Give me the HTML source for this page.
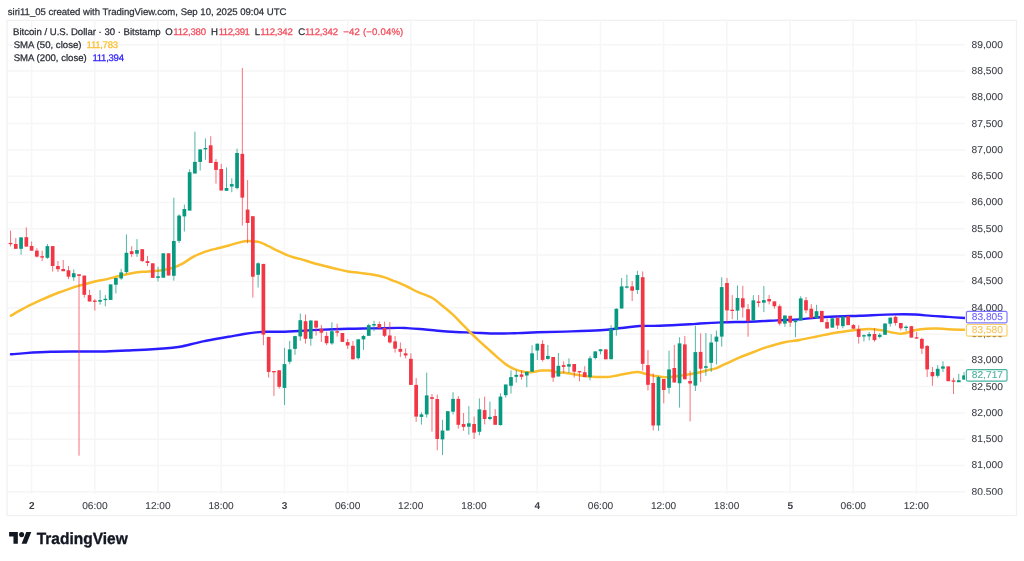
<!DOCTYPE html>
<html><head><meta charset="utf-8"><style>
html,body{margin:0;padding:0;background:#fff;}
body{width:1024px;height:561px;overflow:hidden;position:relative;font-family:"Liberation Sans",Arial,sans-serif;}
svg{position:absolute;left:0;top:0;will-change:transform;} text{text-rendering:geometricPrecision;}
</style></head><body>
<svg width="1024" height="561" viewBox="0 0 1024 561" font-family="Liberation Sans, Arial, sans-serif">
<rect x="7.1" y="20.3" width="1009.4" height="495.3" fill="none" stroke="#F1F1F2" stroke-width="1.3"/>
<g stroke="#F6F6F7" stroke-width="1.5">
<line x1="31.60" y1="20.5" x2="31.60" y2="494"/>
<line x1="94.80" y1="20.5" x2="94.80" y2="494"/>
<line x1="158.00" y1="20.5" x2="158.00" y2="494"/>
<line x1="221.20" y1="20.5" x2="221.20" y2="494"/>
<line x1="284.40" y1="20.5" x2="284.40" y2="494"/>
<line x1="347.60" y1="20.5" x2="347.60" y2="494"/>
<line x1="410.80" y1="20.5" x2="410.80" y2="494"/>
<line x1="474.00" y1="20.5" x2="474.00" y2="494"/>
<line x1="537.20" y1="20.5" x2="537.20" y2="494"/>
<line x1="600.40" y1="20.5" x2="600.40" y2="494"/>
<line x1="663.60" y1="20.5" x2="663.60" y2="494"/>
<line x1="726.80" y1="20.5" x2="726.80" y2="494"/>
<line x1="790.00" y1="20.5" x2="790.00" y2="494"/>
<line x1="853.20" y1="20.5" x2="853.20" y2="494"/>
<line x1="916.40" y1="20.5" x2="916.40" y2="494"/>
</g><g stroke="#F6F6F7" stroke-width="1.5">
<line x1="7.5" y1="44.70" x2="965" y2="44.70"/>
<line x1="7.5" y1="71.00" x2="965" y2="71.00"/>
<line x1="7.5" y1="97.30" x2="965" y2="97.30"/>
<line x1="7.5" y1="123.60" x2="965" y2="123.60"/>
<line x1="7.5" y1="149.90" x2="965" y2="149.90"/>
<line x1="7.5" y1="176.20" x2="965" y2="176.20"/>
<line x1="7.5" y1="202.50" x2="965" y2="202.50"/>
<line x1="7.5" y1="228.80" x2="965" y2="228.80"/>
<line x1="7.5" y1="255.10" x2="965" y2="255.10"/>
<line x1="7.5" y1="281.40" x2="965" y2="281.40"/>
<line x1="7.5" y1="307.70" x2="965" y2="307.70"/>
<line x1="7.5" y1="334.00" x2="965" y2="334.00"/>
<line x1="7.5" y1="360.30" x2="965" y2="360.30"/>
<line x1="7.5" y1="386.60" x2="965" y2="386.60"/>
<line x1="7.5" y1="412.90" x2="965" y2="412.90"/>
<line x1="7.5" y1="439.20" x2="965" y2="439.20"/>
<line x1="7.5" y1="465.50" x2="965" y2="465.50"/>
<line x1="7.5" y1="491.80" x2="965" y2="491.80"/>
</g>
<clipPath id="pc"><rect x="7.5" y="20.5" width="957.5" height="471.5"/></clipPath>
<g clip-path="url(#pc)">
<path d="M11.00,354.30 C13.40,354.10 18.77,353.52 25.40,353.10 C32.03,352.68 42.33,352.07 50.80,351.80 C59.27,351.53 67.73,351.55 76.20,351.50 C84.67,351.45 93.13,351.67 101.60,351.50 C110.07,351.33 118.53,350.87 127.00,350.50 C135.47,350.13 144.78,349.77 152.40,349.30 C160.02,348.83 167.63,348.22 172.70,347.70 C177.77,347.18 177.73,347.25 182.80,346.20 C187.87,345.15 195.48,342.97 203.10,341.40 C210.72,339.83 221.68,338.03 228.50,336.80 C235.32,335.57 238.93,334.78 244.00,334.00 C249.07,333.22 255.17,332.48 258.90,332.10 C262.63,331.72 262.12,331.77 266.40,331.70 C270.68,331.63 279.25,331.82 284.60,331.70 C289.95,331.58 292.97,331.30 298.50,331.00 C304.03,330.70 309.53,330.27 317.80,329.90 C326.07,329.53 339.18,329.05 348.10,328.80 C357.02,328.55 362.98,328.55 371.30,328.40 C379.62,328.25 392.05,327.95 398.00,327.90 C403.95,327.85 403.33,327.92 407.00,328.10 C410.67,328.28 414.87,328.55 420.00,329.00 C425.13,329.45 431.85,330.30 437.80,330.80 C443.75,331.30 449.75,331.70 455.70,332.00 C461.65,332.30 466.68,332.35 473.50,332.60 C480.32,332.85 489.18,333.42 496.60,333.50 C504.02,333.58 511.25,333.30 518.00,333.10 C524.75,332.90 529.27,332.55 537.10,332.30 C544.93,332.05 554.52,331.93 565.00,331.60 C575.48,331.27 590.60,330.90 600.00,330.30 C609.40,329.70 614.80,328.72 621.40,328.00 C628.00,327.28 633.17,326.37 639.60,326.00 C646.03,325.63 651.60,326.08 660.00,325.80 C668.40,325.52 683.33,324.68 690.00,324.30 C696.67,323.92 694.65,323.82 700.00,323.50 C705.35,323.18 713.77,322.70 722.10,322.40 C730.43,322.10 740.83,322.03 750.00,321.70 C759.17,321.37 768.42,320.83 777.10,320.40 C785.78,319.97 794.72,319.62 802.10,319.10 C809.48,318.58 814.62,317.78 821.40,317.30 C828.18,316.82 836.37,316.47 842.80,316.20 C849.23,315.93 851.37,316.00 860.00,315.70 C868.63,315.40 885.43,314.60 894.60,314.40 C903.77,314.20 908.82,314.25 915.00,314.50 C921.18,314.75 926.23,315.50 931.70,315.90 C937.17,316.30 942.25,316.55 947.80,316.90 C953.35,317.25 962.13,317.82 965.00,318.00" fill="none" stroke="#2B1CFF" stroke-width="2.4" stroke-linejoin="round" stroke-linecap="round"/>
<path d="M10.90,315.70 C12.35,314.87 16.52,312.43 19.60,310.70 C22.68,308.97 26.13,306.93 29.40,305.30 C32.67,303.67 35.93,302.37 39.20,300.90 C42.47,299.43 45.73,297.90 49.00,296.50 C52.27,295.10 55.53,293.73 58.80,292.50 C62.07,291.27 65.33,290.20 68.60,289.10 C71.87,288.00 75.13,286.88 78.40,285.90 C81.67,284.92 84.93,284.05 88.20,283.20 C91.47,282.35 95.23,281.40 98.00,280.80 C100.77,280.20 102.05,280.22 104.80,279.60 C107.55,278.98 111.25,277.92 114.50,277.10 C117.75,276.28 121.03,275.43 124.30,274.70 C127.57,273.97 130.85,273.20 134.10,272.70 C137.35,272.20 140.55,271.97 143.80,271.70 C147.05,271.43 150.33,271.37 153.60,271.10 C156.87,270.83 160.15,270.65 163.40,270.10 C166.65,269.55 169.85,268.92 173.10,267.80 C176.35,266.68 179.63,265.18 182.90,263.40 C186.17,261.62 189.88,258.70 192.70,257.10 C195.52,255.50 197.00,254.92 199.80,253.80 C202.60,252.68 206.25,251.37 209.50,250.40 C212.75,249.43 216.05,248.82 219.30,248.00 C222.55,247.18 225.75,246.40 229.00,245.50 C232.25,244.60 235.87,243.33 238.80,242.60 C241.73,241.87 244.15,241.30 246.60,241.10 C249.05,240.90 251.22,241.18 253.50,241.40 C255.78,241.62 257.87,241.63 260.30,242.40 C262.73,243.17 265.17,244.58 268.10,246.00 C271.03,247.42 274.63,249.35 277.90,250.90 C281.17,252.45 284.98,254.20 287.70,255.30 C290.42,256.40 292.15,256.90 294.20,257.50 C296.25,258.10 296.07,257.77 300.00,258.90 C303.93,260.03 311.85,262.67 317.80,264.30 C323.75,265.93 330.65,267.52 335.70,268.70 C340.75,269.88 343.65,270.65 348.10,271.40 C352.55,272.15 357.93,272.60 362.40,273.20 C366.87,273.80 371.33,274.35 374.90,275.00 C378.47,275.65 380.53,276.07 383.80,277.10 C387.07,278.13 390.63,279.63 394.50,281.20 C398.37,282.77 403.15,284.72 407.00,286.50 C410.85,288.28 413.50,290.07 417.60,291.90 C421.70,293.73 427.63,295.32 431.60,297.50 C435.57,299.68 437.98,302.27 441.40,305.00 C444.82,307.73 448.83,310.93 452.10,313.90 C455.37,316.87 458.03,319.78 461.00,322.80 C463.97,325.82 466.93,329.03 469.90,332.00 C472.87,334.97 475.83,337.83 478.80,340.60 C481.77,343.37 484.73,345.93 487.70,348.60 C490.67,351.27 493.62,354.02 496.60,356.60 C499.58,359.18 502.62,362.02 505.60,364.10 C508.58,366.18 511.53,367.82 514.50,369.10 C517.47,370.38 520.73,371.27 523.40,371.80 C526.07,372.33 527.53,372.50 530.50,372.30 C533.47,372.10 537.95,370.88 541.20,370.60 C544.45,370.32 547.12,370.27 550.00,370.60 C552.88,370.93 556.00,372.23 558.50,372.60 C561.00,372.97 560.30,372.20 565.00,372.80 C569.70,373.40 579.60,375.50 586.70,376.20 C593.80,376.90 602.17,377.22 607.60,377.00 C613.03,376.78 614.42,375.73 619.30,374.90 C624.18,374.07 632.60,372.18 636.90,372.00 C641.20,371.82 642.17,373.15 645.10,373.80 C648.03,374.45 650.98,375.32 654.50,375.90 C658.02,376.48 662.30,377.27 666.20,377.30 C670.10,377.33 674.00,376.60 677.90,376.10 C681.80,375.60 685.70,374.98 689.60,374.30 C693.50,373.62 697.90,372.78 701.30,372.00 C704.70,371.22 707.55,370.20 710.00,369.60 C712.45,369.00 713.22,369.43 716.00,368.40 C718.78,367.37 722.83,365.18 726.70,363.40 C730.57,361.62 734.73,359.60 739.20,357.70 C743.67,355.80 749.03,353.72 753.50,352.00 C757.97,350.28 760.65,349.07 766.00,347.40 C771.35,345.73 779.97,343.25 785.60,342.00 C791.23,340.75 794.75,340.78 799.80,339.90 C804.85,339.02 810.87,337.73 815.90,336.70 C820.93,335.67 825.52,334.53 830.00,333.70 C834.48,332.87 838.53,332.30 842.80,331.70 C847.07,331.10 851.25,330.57 855.60,330.10 C859.95,329.63 864.55,328.88 868.90,328.90 C873.25,328.92 876.35,329.40 881.70,330.20 C887.05,331.00 895.33,333.72 901.00,333.70 C906.67,333.68 911.47,330.93 915.70,330.10 C919.93,329.27 922.83,328.97 926.40,328.70 C929.97,328.43 933.53,328.42 937.10,328.50 C940.67,328.58 943.15,328.98 947.80,329.20 C952.45,329.42 962.13,329.70 965.00,329.80" fill="none" stroke="#FABD2C" stroke-width="2.5" stroke-linejoin="round" stroke-linecap="round"/>
<rect x="10.03" y="230.6" width="1" height="15.8" fill="#F23645" fill-opacity="0.7"/>
<rect x="8.68" y="242.9" width="3.7" height="1.3" fill="#F23645"/>
<rect x="15.30" y="238.0" width="1" height="10.8" fill="#F23645" fill-opacity="0.7"/>
<rect x="13.95" y="244.0" width="3.7" height="4.8" fill="#F23645"/>
<rect x="20.56" y="237.4" width="1" height="17.3" fill="#089981" fill-opacity="0.7"/>
<rect x="19.21" y="237.4" width="3.7" height="11.4" fill="#089981"/>
<rect x="25.83" y="227.4" width="1" height="19.2" fill="#F23645" fill-opacity="0.7"/>
<rect x="24.48" y="237.2" width="3.7" height="9.4" fill="#F23645"/>
<rect x="31.10" y="241.5" width="1" height="9.2" fill="#F23645" fill-opacity="0.7"/>
<rect x="29.75" y="246.0" width="3.7" height="4.7" fill="#F23645"/>
<rect x="36.37" y="248.2" width="1" height="9.3" fill="#F23645" fill-opacity="0.7"/>
<rect x="35.02" y="250.6" width="3.7" height="6.0" fill="#F23645"/>
<rect x="41.64" y="250.7" width="1" height="10.4" fill="#F23645" fill-opacity="0.7"/>
<rect x="40.29" y="256.2" width="3.7" height="1.4" fill="#F23645"/>
<rect x="46.90" y="244.0" width="1" height="14.9" fill="#089981" fill-opacity="0.7"/>
<rect x="45.55" y="246.1" width="3.7" height="11.7" fill="#089981"/>
<rect x="52.17" y="246.1" width="1" height="25.5" fill="#F23645" fill-opacity="0.7"/>
<rect x="50.82" y="246.1" width="3.7" height="19.9" fill="#F23645"/>
<rect x="57.44" y="261.0" width="1" height="10.9" fill="#F23645" fill-opacity="0.7"/>
<rect x="56.09" y="266.0" width="3.7" height="3.2" fill="#F23645"/>
<rect x="62.71" y="260.0" width="1" height="11.2" fill="#F23645" fill-opacity="0.7"/>
<rect x="61.36" y="269.0" width="3.7" height="2.2" fill="#F23645"/>
<rect x="67.98" y="266.0" width="1" height="13.2" fill="#F23645" fill-opacity="0.7"/>
<rect x="66.63" y="270.3" width="3.7" height="6.4" fill="#F23645"/>
<rect x="73.24" y="269.4" width="1" height="11.4" fill="#089981" fill-opacity="0.7"/>
<rect x="71.89" y="273.2" width="3.7" height="4.1" fill="#089981"/>
<rect x="78.51" y="274.2" width="1" height="181.5" fill="#F23645" fill-opacity="0.7"/>
<rect x="77.16" y="274.3" width="3.7" height="1.6" fill="#F23645"/>
<rect x="83.78" y="275.6" width="1" height="22.0" fill="#F23645" fill-opacity="0.7"/>
<rect x="82.43" y="275.6" width="3.7" height="19.2" fill="#F23645"/>
<rect x="89.05" y="289.8" width="1" height="11.7" fill="#F23645" fill-opacity="0.7"/>
<rect x="87.70" y="295.1" width="3.7" height="6.4" fill="#F23645"/>
<rect x="94.32" y="298.9" width="1" height="11.7" fill="#F23645" fill-opacity="0.7"/>
<rect x="92.97" y="300.6" width="3.7" height="1.3" fill="#F23645"/>
<rect x="99.58" y="290.1" width="1" height="14.6" fill="#089981" fill-opacity="0.7"/>
<rect x="98.23" y="300.1" width="3.7" height="1.6" fill="#089981"/>
<rect x="104.85" y="295.1" width="1" height="11.2" fill="#089981" fill-opacity="0.7"/>
<rect x="103.50" y="298.8" width="3.7" height="1.3" fill="#089981"/>
<rect x="110.12" y="284.4" width="1" height="15.5" fill="#089981" fill-opacity="0.7"/>
<rect x="108.77" y="284.4" width="3.7" height="15.5" fill="#089981"/>
<rect x="115.39" y="278.0" width="1" height="15.5" fill="#089981" fill-opacity="0.7"/>
<rect x="114.04" y="278.0" width="3.7" height="6.7" fill="#089981"/>
<rect x="120.66" y="268.9" width="1" height="10.9" fill="#089981" fill-opacity="0.7"/>
<rect x="119.31" y="272.4" width="3.7" height="6.1" fill="#089981"/>
<rect x="125.92" y="234.4" width="1" height="39.3" fill="#089981" fill-opacity="0.7"/>
<rect x="124.57" y="252.8" width="3.7" height="19.3" fill="#089981"/>
<rect x="131.19" y="246.2" width="1" height="10.7" fill="#F23645" fill-opacity="0.7"/>
<rect x="129.84" y="251.2" width="3.7" height="2.9" fill="#F23645"/>
<rect x="136.46" y="239.1" width="1" height="17.8" fill="#089981" fill-opacity="0.7"/>
<rect x="135.11" y="250.1" width="3.7" height="3.6" fill="#089981"/>
<rect x="141.73" y="249.2" width="1" height="12.7" fill="#F23645" fill-opacity="0.7"/>
<rect x="140.38" y="249.2" width="3.7" height="11.9" fill="#F23645"/>
<rect x="147.00" y="256.0" width="1" height="10.2" fill="#F23645" fill-opacity="0.7"/>
<rect x="145.65" y="261.1" width="3.7" height="1.9" fill="#F23645"/>
<rect x="152.26" y="263.3" width="1" height="14.6" fill="#F23645" fill-opacity="0.7"/>
<rect x="150.91" y="263.3" width="3.7" height="14.6" fill="#F23645"/>
<rect x="157.53" y="266.7" width="1" height="14.8" fill="#089981" fill-opacity="0.7"/>
<rect x="156.18" y="276.3" width="3.7" height="1.6" fill="#089981"/>
<rect x="162.80" y="253.3" width="1" height="24.4" fill="#089981" fill-opacity="0.7"/>
<rect x="161.45" y="253.3" width="3.7" height="24.4" fill="#089981"/>
<rect x="168.07" y="253.3" width="1" height="22.2" fill="#F23645" fill-opacity="0.7"/>
<rect x="166.72" y="253.3" width="3.7" height="22.2" fill="#F23645"/>
<rect x="173.34" y="197.7" width="1" height="82.9" fill="#089981" fill-opacity="0.7"/>
<rect x="171.99" y="241.0" width="3.7" height="34.8" fill="#089981"/>
<rect x="178.60" y="214.2" width="1" height="28.8" fill="#089981" fill-opacity="0.7"/>
<rect x="177.25" y="215.6" width="3.7" height="25.3" fill="#089981"/>
<rect x="183.87" y="204.6" width="1" height="26.9" fill="#089981" fill-opacity="0.7"/>
<rect x="182.52" y="209.0" width="3.7" height="7.4" fill="#089981"/>
<rect x="189.14" y="169.3" width="1" height="41.3" fill="#089981" fill-opacity="0.7"/>
<rect x="187.79" y="172.2" width="3.7" height="38.4" fill="#089981"/>
<rect x="194.41" y="131.6" width="1" height="41.9" fill="#089981" fill-opacity="0.7"/>
<rect x="193.06" y="161.9" width="3.7" height="11.6" fill="#089981"/>
<rect x="199.68" y="149.4" width="1" height="21.1" fill="#089981" fill-opacity="0.7"/>
<rect x="198.33" y="149.4" width="3.7" height="12.5" fill="#089981"/>
<rect x="204.94" y="138.4" width="1" height="21.4" fill="#089981" fill-opacity="0.7"/>
<rect x="203.59" y="148.0" width="3.7" height="1.4" fill="#089981"/>
<rect x="210.21" y="136.2" width="1" height="26.8" fill="#F23645" fill-opacity="0.7"/>
<rect x="208.86" y="145.3" width="3.7" height="17.7" fill="#F23645"/>
<rect x="215.48" y="159.0" width="1" height="24.6" fill="#F23645" fill-opacity="0.7"/>
<rect x="214.13" y="161.9" width="3.7" height="8.0" fill="#F23645"/>
<rect x="220.75" y="163.7" width="1" height="26.8" fill="#F23645" fill-opacity="0.7"/>
<rect x="219.40" y="169.0" width="3.7" height="21.5" fill="#F23645"/>
<rect x="226.02" y="167.4" width="1" height="23.4" fill="#089981" fill-opacity="0.7"/>
<rect x="224.67" y="188.0" width="3.7" height="2.8" fill="#089981"/>
<rect x="231.28" y="178.3" width="1" height="13.9" fill="#089981" fill-opacity="0.7"/>
<rect x="229.93" y="184.1" width="3.7" height="2.4" fill="#089981"/>
<rect x="236.55" y="148.6" width="1" height="40.8" fill="#089981" fill-opacity="0.7"/>
<rect x="235.20" y="153.0" width="3.7" height="35.1" fill="#089981"/>
<rect x="241.82" y="67.9" width="1" height="157.7" fill="#F23645" fill-opacity="0.7"/>
<rect x="240.47" y="153.9" width="3.7" height="43.7" fill="#F23645"/>
<rect x="247.09" y="180.1" width="1" height="63.2" fill="#F23645" fill-opacity="0.7"/>
<rect x="245.74" y="209.6" width="3.7" height="13.4" fill="#F23645"/>
<rect x="252.36" y="216.2" width="1" height="81.4" fill="#F23645" fill-opacity="0.7"/>
<rect x="251.01" y="216.2" width="3.7" height="60.5" fill="#F23645"/>
<rect x="257.62" y="262.3" width="1" height="25.3" fill="#089981" fill-opacity="0.7"/>
<rect x="256.27" y="263.3" width="3.7" height="11.5" fill="#089981"/>
<rect x="262.89" y="263.9" width="1" height="81.3" fill="#F23645" fill-opacity="0.7"/>
<rect x="261.54" y="263.9" width="3.7" height="70.7" fill="#F23645"/>
<rect x="268.16" y="336.9" width="1" height="40.7" fill="#F23645" fill-opacity="0.7"/>
<rect x="266.81" y="336.9" width="3.7" height="35.0" fill="#F23645"/>
<rect x="273.43" y="371.1" width="1" height="24.8" fill="#F23645" fill-opacity="0.7"/>
<rect x="272.08" y="371.0" width="3.7" height="1.3" fill="#F23645"/>
<rect x="278.70" y="370.3" width="1" height="18.3" fill="#F23645" fill-opacity="0.7"/>
<rect x="277.35" y="370.3" width="3.7" height="16.5" fill="#F23645"/>
<rect x="283.96" y="347.8" width="1" height="57.2" fill="#089981" fill-opacity="0.7"/>
<rect x="282.61" y="364.1" width="3.7" height="23.8" fill="#089981"/>
<rect x="289.23" y="340.9" width="1" height="23.2" fill="#089981" fill-opacity="0.7"/>
<rect x="287.88" y="349.4" width="3.7" height="12.3" fill="#089981"/>
<rect x="294.50" y="335.8" width="1" height="19.0" fill="#089981" fill-opacity="0.7"/>
<rect x="293.15" y="336.1" width="3.7" height="12.8" fill="#089981"/>
<rect x="299.77" y="313.5" width="1" height="27.3" fill="#089981" fill-opacity="0.7"/>
<rect x="298.42" y="320.2" width="3.7" height="16.2" fill="#089981"/>
<rect x="305.04" y="314.5" width="1" height="29.1" fill="#F23645" fill-opacity="0.7"/>
<rect x="303.69" y="321.2" width="3.7" height="17.6" fill="#F23645"/>
<rect x="310.30" y="320.3" width="1" height="25.4" fill="#089981" fill-opacity="0.7"/>
<rect x="308.95" y="320.5" width="3.7" height="18.2" fill="#089981"/>
<rect x="315.57" y="320.7" width="1" height="15.0" fill="#F23645" fill-opacity="0.7"/>
<rect x="314.22" y="320.7" width="3.7" height="6.9" fill="#F23645"/>
<rect x="320.84" y="325.0" width="1" height="16.9" fill="#F23645" fill-opacity="0.7"/>
<rect x="319.49" y="328.7" width="3.7" height="4.0" fill="#F23645"/>
<rect x="326.11" y="331.9" width="1" height="13.2" fill="#F23645" fill-opacity="0.7"/>
<rect x="324.76" y="335.9" width="3.7" height="7.3" fill="#F23645"/>
<rect x="331.38" y="322.3" width="1" height="22.5" fill="#089981" fill-opacity="0.7"/>
<rect x="330.03" y="331.2" width="3.7" height="12.2" fill="#089981"/>
<rect x="336.64" y="323.7" width="1" height="12.8" fill="#F23645" fill-opacity="0.7"/>
<rect x="335.29" y="331.2" width="3.7" height="1.5" fill="#F23645"/>
<rect x="341.91" y="333.0" width="1" height="8.9" fill="#F23645" fill-opacity="0.7"/>
<rect x="340.56" y="333.0" width="3.7" height="8.9" fill="#F23645"/>
<rect x="347.18" y="338.9" width="1" height="10.1" fill="#F23645" fill-opacity="0.7"/>
<rect x="345.83" y="342.1" width="3.7" height="3.4" fill="#F23645"/>
<rect x="352.45" y="341.0" width="1" height="18.7" fill="#F23645" fill-opacity="0.7"/>
<rect x="351.10" y="345.8" width="3.7" height="13.4" fill="#F23645"/>
<rect x="357.72" y="339.3" width="1" height="20.2" fill="#089981" fill-opacity="0.7"/>
<rect x="356.37" y="339.3" width="3.7" height="18.9" fill="#089981"/>
<rect x="362.98" y="335.0" width="1" height="14.9" fill="#089981" fill-opacity="0.7"/>
<rect x="361.63" y="336.0" width="3.7" height="3.4" fill="#089981"/>
<rect x="368.25" y="323.7" width="1" height="12.1" fill="#089981" fill-opacity="0.7"/>
<rect x="366.90" y="325.1" width="3.7" height="10.7" fill="#089981"/>
<rect x="373.52" y="320.8" width="1" height="10.4" fill="#089981" fill-opacity="0.7"/>
<rect x="372.17" y="324.0" width="3.7" height="1.5" fill="#089981"/>
<rect x="378.79" y="321.6" width="1" height="7.8" fill="#F23645" fill-opacity="0.7"/>
<rect x="377.44" y="324.0" width="3.7" height="4.0" fill="#F23645"/>
<rect x="384.06" y="321.6" width="1" height="15.5" fill="#F23645" fill-opacity="0.7"/>
<rect x="382.71" y="328.0" width="3.7" height="7.8" fill="#F23645"/>
<rect x="389.32" y="322.1" width="1" height="21.4" fill="#F23645" fill-opacity="0.7"/>
<rect x="387.97" y="335.5" width="3.7" height="6.9" fill="#F23645"/>
<rect x="394.59" y="336.0" width="1" height="16.6" fill="#F23645" fill-opacity="0.7"/>
<rect x="393.24" y="341.4" width="3.7" height="7.2" fill="#F23645"/>
<rect x="399.86" y="342.4" width="1" height="14.5" fill="#F23645" fill-opacity="0.7"/>
<rect x="398.51" y="348.9" width="3.7" height="2.9" fill="#F23645"/>
<rect x="405.13" y="348.3" width="1" height="10.0" fill="#F23645" fill-opacity="0.7"/>
<rect x="403.78" y="353.3" width="3.7" height="2.2" fill="#F23645"/>
<rect x="410.40" y="353.3" width="1" height="31.6" fill="#F23645" fill-opacity="0.7"/>
<rect x="409.05" y="358.8" width="3.7" height="26.1" fill="#F23645"/>
<rect x="415.66" y="378.0" width="1" height="43.9" fill="#F23645" fill-opacity="0.7"/>
<rect x="414.31" y="384.9" width="3.7" height="31.7" fill="#F23645"/>
<rect x="420.93" y="412.3" width="1" height="12.3" fill="#089981" fill-opacity="0.7"/>
<rect x="419.58" y="414.4" width="3.7" height="2.5" fill="#089981"/>
<rect x="426.20" y="372.6" width="1" height="45.0" fill="#089981" fill-opacity="0.7"/>
<rect x="424.85" y="395.4" width="3.7" height="19.0" fill="#089981"/>
<rect x="431.47" y="394.0" width="1" height="37.6" fill="#F23645" fill-opacity="0.7"/>
<rect x="430.12" y="397.2" width="3.7" height="1.7" fill="#F23645"/>
<rect x="436.74" y="394.6" width="1" height="55.7" fill="#F23645" fill-opacity="0.7"/>
<rect x="435.39" y="399.0" width="3.7" height="40.0" fill="#F23645"/>
<rect x="442.00" y="419.8" width="1" height="35.3" fill="#089981" fill-opacity="0.7"/>
<rect x="440.65" y="430.5" width="3.7" height="8.9" fill="#089981"/>
<rect x="447.27" y="411.2" width="1" height="19.3" fill="#089981" fill-opacity="0.7"/>
<rect x="445.92" y="411.2" width="3.7" height="19.3" fill="#089981"/>
<rect x="452.54" y="392.2" width="1" height="22.2" fill="#089981" fill-opacity="0.7"/>
<rect x="451.19" y="398.9" width="3.7" height="12.8" fill="#089981"/>
<rect x="457.81" y="396.2" width="1" height="32.4" fill="#F23645" fill-opacity="0.7"/>
<rect x="456.46" y="398.9" width="3.7" height="25.9" fill="#F23645"/>
<rect x="463.08" y="413.0" width="1" height="17.8" fill="#F23645" fill-opacity="0.7"/>
<rect x="461.73" y="424.0" width="3.7" height="2.9" fill="#F23645"/>
<rect x="468.34" y="406.2" width="1" height="28.5" fill="#089981" fill-opacity="0.7"/>
<rect x="466.99" y="423.3" width="3.7" height="3.4" fill="#089981"/>
<rect x="473.61" y="416.6" width="1" height="22.4" fill="#F23645" fill-opacity="0.7"/>
<rect x="472.26" y="424.0" width="3.7" height="8.6" fill="#F23645"/>
<rect x="478.88" y="398.4" width="1" height="36.9" fill="#089981" fill-opacity="0.7"/>
<rect x="477.53" y="409.4" width="3.7" height="22.4" fill="#089981"/>
<rect x="484.15" y="396.6" width="1" height="27.8" fill="#F23645" fill-opacity="0.7"/>
<rect x="482.80" y="410.1" width="3.7" height="8.9" fill="#F23645"/>
<rect x="489.42" y="401.6" width="1" height="18.7" fill="#089981" fill-opacity="0.7"/>
<rect x="488.07" y="416.9" width="3.7" height="2.1" fill="#089981"/>
<rect x="494.68" y="409.1" width="1" height="15.7" fill="#F23645" fill-opacity="0.7"/>
<rect x="493.33" y="416.0" width="3.7" height="8.8" fill="#F23645"/>
<rect x="499.95" y="393.3" width="1" height="32.3" fill="#089981" fill-opacity="0.7"/>
<rect x="498.60" y="396.6" width="3.7" height="28.5" fill="#089981"/>
<rect x="505.22" y="384.5" width="1" height="13.1" fill="#089981" fill-opacity="0.7"/>
<rect x="503.87" y="384.5" width="3.7" height="10.7" fill="#089981"/>
<rect x="510.49" y="370.4" width="1" height="23.2" fill="#089981" fill-opacity="0.7"/>
<rect x="509.14" y="377.1" width="3.7" height="8.7" fill="#089981"/>
<rect x="515.76" y="370.1" width="1" height="12.5" fill="#089981" fill-opacity="0.7"/>
<rect x="514.41" y="374.9" width="3.7" height="1.9" fill="#089981"/>
<rect x="521.02" y="370.4" width="1" height="9.3" fill="#F23645" fill-opacity="0.7"/>
<rect x="519.67" y="374.4" width="3.7" height="2.4" fill="#F23645"/>
<rect x="526.29" y="371.2" width="1" height="16.0" fill="#089981" fill-opacity="0.7"/>
<rect x="524.94" y="371.9" width="3.7" height="3.6" fill="#089981"/>
<rect x="531.56" y="345.2" width="1" height="26.5" fill="#089981" fill-opacity="0.7"/>
<rect x="530.21" y="353.3" width="3.7" height="18.4" fill="#089981"/>
<rect x="536.83" y="343.7" width="1" height="16.3" fill="#089981" fill-opacity="0.7"/>
<rect x="535.48" y="343.7" width="3.7" height="6.8" fill="#089981"/>
<rect x="542.10" y="340.2" width="1" height="21.4" fill="#F23645" fill-opacity="0.7"/>
<rect x="540.75" y="343.9" width="3.7" height="16.0" fill="#F23645"/>
<rect x="547.36" y="345.0" width="1" height="14.7" fill="#089981" fill-opacity="0.7"/>
<rect x="546.01" y="355.9" width="3.7" height="3.0" fill="#089981"/>
<rect x="552.63" y="357.0" width="1" height="24.9" fill="#F23645" fill-opacity="0.7"/>
<rect x="551.28" y="357.0" width="3.7" height="20.6" fill="#F23645"/>
<rect x="557.90" y="353.0" width="1" height="23.5" fill="#089981" fill-opacity="0.7"/>
<rect x="556.55" y="365.8" width="3.7" height="10.7" fill="#089981"/>
<rect x="563.17" y="361.4" width="1" height="11.6" fill="#F23645" fill-opacity="0.7"/>
<rect x="561.82" y="365.1" width="3.7" height="1.8" fill="#F23645"/>
<rect x="568.44" y="358.3" width="1" height="14.5" fill="#089981" fill-opacity="0.7"/>
<rect x="567.09" y="364.2" width="3.7" height="2.4" fill="#089981"/>
<rect x="573.70" y="364.0" width="1" height="13.6" fill="#F23645" fill-opacity="0.7"/>
<rect x="572.35" y="364.0" width="3.7" height="7.7" fill="#F23645"/>
<rect x="578.97" y="371.2" width="1" height="10.1" fill="#F23645" fill-opacity="0.7"/>
<rect x="577.62" y="371.1" width="3.7" height="1.3" fill="#F23645"/>
<rect x="584.24" y="366.1" width="1" height="11.0" fill="#F23645" fill-opacity="0.7"/>
<rect x="582.89" y="372.2" width="3.7" height="4.9" fill="#F23645"/>
<rect x="589.51" y="355.9" width="1" height="24.4" fill="#089981" fill-opacity="0.7"/>
<rect x="588.16" y="358.3" width="3.7" height="18.8" fill="#089981"/>
<rect x="594.78" y="351.4" width="1" height="8.0" fill="#089981" fill-opacity="0.7"/>
<rect x="593.43" y="351.4" width="3.7" height="6.6" fill="#089981"/>
<rect x="600.04" y="349.3" width="1" height="5.1" fill="#089981" fill-opacity="0.7"/>
<rect x="598.69" y="349.3" width="3.7" height="1.9" fill="#089981"/>
<rect x="605.31" y="349.4" width="1" height="9.9" fill="#F23645" fill-opacity="0.7"/>
<rect x="603.96" y="349.4" width="3.7" height="9.9" fill="#F23645"/>
<rect x="610.58" y="325.2" width="1" height="34.0" fill="#089981" fill-opacity="0.7"/>
<rect x="609.23" y="328.7" width="3.7" height="30.5" fill="#089981"/>
<rect x="615.85" y="308.2" width="1" height="27.5" fill="#089981" fill-opacity="0.7"/>
<rect x="614.50" y="308.8" width="3.7" height="21.0" fill="#089981"/>
<rect x="621.12" y="278.0" width="1" height="30.5" fill="#089981" fill-opacity="0.7"/>
<rect x="619.77" y="286.4" width="3.7" height="22.1" fill="#089981"/>
<rect x="626.38" y="274.6" width="1" height="13.9" fill="#089981" fill-opacity="0.7"/>
<rect x="625.03" y="286.4" width="3.7" height="1.3" fill="#089981"/>
<rect x="631.65" y="281.0" width="1" height="20.0" fill="#F23645" fill-opacity="0.7"/>
<rect x="630.30" y="286.4" width="3.7" height="4.3" fill="#F23645"/>
<rect x="636.92" y="270.8" width="1" height="23.1" fill="#089981" fill-opacity="0.7"/>
<rect x="635.57" y="275.0" width="3.7" height="15.0" fill="#089981"/>
<rect x="642.19" y="271.4" width="1" height="99.3" fill="#F23645" fill-opacity="0.7"/>
<rect x="640.84" y="277.2" width="3.7" height="86.6" fill="#F23645"/>
<rect x="647.46" y="350.1" width="1" height="40.4" fill="#F23645" fill-opacity="0.7"/>
<rect x="646.11" y="365.1" width="3.7" height="19.7" fill="#F23645"/>
<rect x="652.72" y="373.4" width="1" height="57.1" fill="#F23645" fill-opacity="0.7"/>
<rect x="651.37" y="383.0" width="3.7" height="42.5" fill="#F23645"/>
<rect x="657.99" y="376.0" width="1" height="54.8" fill="#089981" fill-opacity="0.7"/>
<rect x="656.64" y="377.1" width="3.7" height="48.4" fill="#089981"/>
<rect x="663.26" y="379.0" width="1" height="24.3" fill="#F23645" fill-opacity="0.7"/>
<rect x="661.91" y="379.0" width="3.7" height="11.0" fill="#F23645"/>
<rect x="668.53" y="350.6" width="1" height="43.1" fill="#089981" fill-opacity="0.7"/>
<rect x="667.18" y="369.4" width="3.7" height="18.4" fill="#089981"/>
<rect x="673.80" y="344.8" width="1" height="37.7" fill="#F23645" fill-opacity="0.7"/>
<rect x="672.45" y="368.0" width="3.7" height="14.5" fill="#F23645"/>
<rect x="679.06" y="337.3" width="1" height="70.3" fill="#089981" fill-opacity="0.7"/>
<rect x="677.71" y="343.4" width="3.7" height="39.9" fill="#089981"/>
<rect x="684.33" y="335.9" width="1" height="43.4" fill="#F23645" fill-opacity="0.7"/>
<rect x="682.98" y="344.4" width="3.7" height="34.9" fill="#F23645"/>
<rect x="689.60" y="370.6" width="1" height="50.8" fill="#F23645" fill-opacity="0.7"/>
<rect x="688.25" y="381.0" width="3.7" height="2.5" fill="#F23645"/>
<rect x="694.87" y="325.5" width="1" height="65.5" fill="#089981" fill-opacity="0.7"/>
<rect x="693.52" y="352.1" width="3.7" height="33.5" fill="#089981"/>
<rect x="700.14" y="333.3" width="1" height="48.6" fill="#F23645" fill-opacity="0.7"/>
<rect x="698.79" y="351.9" width="3.7" height="16.8" fill="#F23645"/>
<rect x="705.40" y="333.0" width="1" height="42.8" fill="#089981" fill-opacity="0.7"/>
<rect x="704.05" y="366.2" width="3.7" height="1.6" fill="#089981"/>
<rect x="710.67" y="334.1" width="1" height="37.8" fill="#089981" fill-opacity="0.7"/>
<rect x="709.32" y="342.5" width="3.7" height="20.3" fill="#089981"/>
<rect x="715.94" y="330.5" width="1" height="33.9" fill="#089981" fill-opacity="0.7"/>
<rect x="714.59" y="336.6" width="3.7" height="5.0" fill="#089981"/>
<rect x="721.21" y="277.3" width="1" height="69.4" fill="#089981" fill-opacity="0.7"/>
<rect x="719.86" y="287.1" width="3.7" height="49.5" fill="#089981"/>
<rect x="726.48" y="278.0" width="1" height="44.4" fill="#F23645" fill-opacity="0.7"/>
<rect x="725.13" y="283.0" width="3.7" height="27.4" fill="#F23645"/>
<rect x="731.74" y="295.1" width="1" height="24.1" fill="#F23645" fill-opacity="0.7"/>
<rect x="730.39" y="309.7" width="3.7" height="1.3" fill="#F23645"/>
<rect x="737.01" y="285.5" width="1" height="34.8" fill="#089981" fill-opacity="0.7"/>
<rect x="735.66" y="298.0" width="3.7" height="12.6" fill="#089981"/>
<rect x="742.28" y="285.8" width="1" height="31.8" fill="#F23645" fill-opacity="0.7"/>
<rect x="740.93" y="298.3" width="3.7" height="9.3" fill="#F23645"/>
<rect x="747.55" y="304.1" width="1" height="32.6" fill="#F23645" fill-opacity="0.7"/>
<rect x="746.20" y="309.2" width="3.7" height="11.8" fill="#F23645"/>
<rect x="752.82" y="295.2" width="1" height="25.2" fill="#089981" fill-opacity="0.7"/>
<rect x="751.47" y="300.3" width="3.7" height="20.1" fill="#089981"/>
<rect x="758.08" y="295.0" width="1" height="12.0" fill="#F23645" fill-opacity="0.7"/>
<rect x="756.73" y="301.4" width="3.7" height="1.6" fill="#F23645"/>
<rect x="763.35" y="285.9" width="1" height="26.2" fill="#089981" fill-opacity="0.7"/>
<rect x="762.00" y="300.1" width="3.7" height="2.6" fill="#089981"/>
<rect x="768.62" y="295.0" width="1" height="9.4" fill="#F23645" fill-opacity="0.7"/>
<rect x="767.27" y="299.0" width="3.7" height="2.4" fill="#F23645"/>
<rect x="773.89" y="301.4" width="1" height="7.3" fill="#F23645" fill-opacity="0.7"/>
<rect x="772.54" y="301.4" width="3.7" height="4.8" fill="#F23645"/>
<rect x="779.16" y="304.4" width="1" height="21.1" fill="#F23645" fill-opacity="0.7"/>
<rect x="777.81" y="306.2" width="3.7" height="17.4" fill="#F23645"/>
<rect x="784.42" y="315.5" width="1" height="11.3" fill="#089981" fill-opacity="0.7"/>
<rect x="783.07" y="315.5" width="3.7" height="8.1" fill="#089981"/>
<rect x="789.69" y="315.8" width="1" height="11.0" fill="#F23645" fill-opacity="0.7"/>
<rect x="788.34" y="315.8" width="3.7" height="6.8" fill="#F23645"/>
<rect x="794.96" y="319.6" width="1" height="17.6" fill="#089981" fill-opacity="0.7"/>
<rect x="793.61" y="320.6" width="3.7" height="1.6" fill="#089981"/>
<rect x="800.23" y="296.2" width="1" height="24.2" fill="#089981" fill-opacity="0.7"/>
<rect x="798.88" y="298.4" width="3.7" height="22.0" fill="#089981"/>
<rect x="805.50" y="297.0" width="1" height="16.3" fill="#F23645" fill-opacity="0.7"/>
<rect x="804.15" y="300.2" width="3.7" height="10.1" fill="#F23645"/>
<rect x="810.76" y="304.1" width="1" height="14.2" fill="#F23645" fill-opacity="0.7"/>
<rect x="809.41" y="308.7" width="3.7" height="9.6" fill="#F23645"/>
<rect x="816.03" y="304.8" width="1" height="14.1" fill="#089981" fill-opacity="0.7"/>
<rect x="814.68" y="311.2" width="3.7" height="6.8" fill="#089981"/>
<rect x="821.30" y="310.9" width="1" height="11.2" fill="#F23645" fill-opacity="0.7"/>
<rect x="819.95" y="310.9" width="3.7" height="11.2" fill="#F23645"/>
<rect x="826.57" y="318.9" width="1" height="9.6" fill="#F23645" fill-opacity="0.7"/>
<rect x="825.22" y="322.1" width="3.7" height="6.4" fill="#F23645"/>
<rect x="831.84" y="318.3" width="1" height="9.3" fill="#089981" fill-opacity="0.7"/>
<rect x="830.49" y="318.3" width="3.7" height="9.3" fill="#089981"/>
<rect x="837.10" y="316.2" width="1" height="12.8" fill="#F23645" fill-opacity="0.7"/>
<rect x="835.75" y="318.0" width="3.7" height="7.5" fill="#F23645"/>
<rect x="842.37" y="316.5" width="1" height="11.8" fill="#089981" fill-opacity="0.7"/>
<rect x="841.02" y="316.5" width="3.7" height="9.6" fill="#089981"/>
<rect x="847.64" y="316.2" width="1" height="8.9" fill="#F23645" fill-opacity="0.7"/>
<rect x="846.29" y="316.2" width="3.7" height="8.9" fill="#F23645"/>
<rect x="852.91" y="324.0" width="1" height="4.7" fill="#F23645" fill-opacity="0.7"/>
<rect x="851.56" y="325.1" width="3.7" height="3.6" fill="#F23645"/>
<rect x="858.18" y="325.1" width="1" height="18.5" fill="#F23645" fill-opacity="0.7"/>
<rect x="856.83" y="329.1" width="3.7" height="7.8" fill="#F23645"/>
<rect x="863.44" y="334.4" width="1" height="7.1" fill="#089981" fill-opacity="0.7"/>
<rect x="862.09" y="335.2" width="3.7" height="1.3" fill="#089981"/>
<rect x="868.71" y="332.1" width="1" height="8.3" fill="#089981" fill-opacity="0.7"/>
<rect x="867.36" y="334.0" width="3.7" height="2.4" fill="#089981"/>
<rect x="873.98" y="328.3" width="1" height="13.4" fill="#F23645" fill-opacity="0.7"/>
<rect x="872.63" y="334.0" width="3.7" height="6.1" fill="#F23645"/>
<rect x="879.25" y="333.2" width="1" height="5.1" fill="#089981" fill-opacity="0.7"/>
<rect x="877.90" y="334.8" width="3.7" height="2.1" fill="#089981"/>
<rect x="884.52" y="323.5" width="1" height="11.3" fill="#089981" fill-opacity="0.7"/>
<rect x="883.17" y="323.5" width="3.7" height="11.3" fill="#089981"/>
<rect x="889.78" y="317.6" width="1" height="9.1" fill="#089981" fill-opacity="0.7"/>
<rect x="888.43" y="317.6" width="3.7" height="6.1" fill="#089981"/>
<rect x="895.05" y="315.2" width="1" height="10.3" fill="#F23645" fill-opacity="0.7"/>
<rect x="893.70" y="316.9" width="3.7" height="6.1" fill="#F23645"/>
<rect x="900.32" y="323.0" width="1" height="7.5" fill="#F23645" fill-opacity="0.7"/>
<rect x="898.97" y="323.0" width="3.7" height="5.3" fill="#F23645"/>
<rect x="905.59" y="325.5" width="1" height="5.5" fill="#089981" fill-opacity="0.7"/>
<rect x="904.24" y="326.7" width="3.7" height="1.3" fill="#089981"/>
<rect x="910.86" y="325.8" width="1" height="11.8" fill="#F23645" fill-opacity="0.7"/>
<rect x="909.51" y="326.2" width="3.7" height="11.4" fill="#F23645"/>
<rect x="916.12" y="332.0" width="1" height="6.6" fill="#F23645" fill-opacity="0.7"/>
<rect x="914.77" y="337.3" width="3.7" height="1.3" fill="#F23645"/>
<rect x="921.39" y="337.8" width="1" height="16.2" fill="#F23645" fill-opacity="0.7"/>
<rect x="920.04" y="338.9" width="3.7" height="9.7" fill="#F23645"/>
<rect x="926.66" y="345.0" width="1" height="32.0" fill="#F23645" fill-opacity="0.7"/>
<rect x="925.31" y="346.0" width="3.7" height="23.4" fill="#F23645"/>
<rect x="931.93" y="367.0" width="1" height="18.7" fill="#F23645" fill-opacity="0.7"/>
<rect x="930.58" y="372.0" width="3.7" height="4.3" fill="#F23645"/>
<rect x="937.20" y="365.2" width="1" height="12.3" fill="#089981" fill-opacity="0.7"/>
<rect x="935.85" y="368.8" width="3.7" height="7.0" fill="#089981"/>
<rect x="942.46" y="361.3" width="1" height="10.8" fill="#089981" fill-opacity="0.7"/>
<rect x="941.11" y="366.4" width="3.7" height="2.3" fill="#089981"/>
<rect x="947.73" y="366.4" width="1" height="14.8" fill="#F23645" fill-opacity="0.7"/>
<rect x="946.38" y="366.4" width="3.7" height="14.8" fill="#F23645"/>
<rect x="953.00" y="377.8" width="1" height="16.3" fill="#F23645" fill-opacity="0.7"/>
<rect x="951.65" y="380.4" width="3.7" height="1.4" fill="#F23645"/>
<rect x="958.27" y="373.9" width="1" height="8.3" fill="#089981" fill-opacity="0.7"/>
<rect x="956.92" y="380.2" width="3.7" height="2.0" fill="#089981"/>
<rect x="963.54" y="372.0" width="1" height="7.6" fill="#089981" fill-opacity="0.7"/>
<rect x="962.19" y="375.4" width="3.7" height="4.2" fill="#089981"/>
</g>
<clipPath id="lc"><rect x="965" y="20" width="52" height="474.8"/></clipPath>
<g clip-path="url(#lc)">
<text x="971.57" y="47.60" font-size="10.0" fill="#3b3e46" stroke="#3b3e46" stroke-width="0.1" textLength="31.33" lengthAdjust="spacingAndGlyphs">89,000</text>
<text x="971.57" y="73.90" font-size="10.0" fill="#3b3e46" stroke="#3b3e46" stroke-width="0.1" textLength="31.33" lengthAdjust="spacingAndGlyphs">88,500</text>
<text x="971.57" y="100.20" font-size="10.0" fill="#3b3e46" stroke="#3b3e46" stroke-width="0.1" textLength="31.33" lengthAdjust="spacingAndGlyphs">88,000</text>
<text x="971.57" y="126.50" font-size="10.0" fill="#3b3e46" stroke="#3b3e46" stroke-width="0.1" textLength="31.33" lengthAdjust="spacingAndGlyphs">87,500</text>
<text x="971.57" y="152.80" font-size="10.0" fill="#3b3e46" stroke="#3b3e46" stroke-width="0.1" textLength="31.33" lengthAdjust="spacingAndGlyphs">87,000</text>
<text x="971.57" y="179.10" font-size="10.0" fill="#3b3e46" stroke="#3b3e46" stroke-width="0.1" textLength="31.33" lengthAdjust="spacingAndGlyphs">86,500</text>
<text x="971.57" y="205.40" font-size="10.0" fill="#3b3e46" stroke="#3b3e46" stroke-width="0.1" textLength="31.33" lengthAdjust="spacingAndGlyphs">86,000</text>
<text x="971.57" y="231.70" font-size="10.0" fill="#3b3e46" stroke="#3b3e46" stroke-width="0.1" textLength="31.33" lengthAdjust="spacingAndGlyphs">85,500</text>
<text x="971.57" y="258.00" font-size="10.0" fill="#3b3e46" stroke="#3b3e46" stroke-width="0.1" textLength="31.33" lengthAdjust="spacingAndGlyphs">85,000</text>
<text x="971.57" y="284.30" font-size="10.0" fill="#3b3e46" stroke="#3b3e46" stroke-width="0.1" textLength="31.33" lengthAdjust="spacingAndGlyphs">84,500</text>
<text x="971.57" y="310.60" font-size="10.0" fill="#3b3e46" stroke="#3b3e46" stroke-width="0.1" textLength="31.33" lengthAdjust="spacingAndGlyphs">84,000</text>
<text x="971.57" y="336.90" font-size="10.0" fill="#3b3e46" stroke="#3b3e46" stroke-width="0.1" textLength="31.33" lengthAdjust="spacingAndGlyphs">83,500</text>
<text x="971.57" y="363.20" font-size="10.0" fill="#3b3e46" stroke="#3b3e46" stroke-width="0.1" textLength="31.33" lengthAdjust="spacingAndGlyphs">83,000</text>
<text x="971.57" y="389.50" font-size="10.0" fill="#3b3e46" stroke="#3b3e46" stroke-width="0.1" textLength="31.33" lengthAdjust="spacingAndGlyphs">82,500</text>
<text x="971.57" y="415.80" font-size="10.0" fill="#3b3e46" stroke="#3b3e46" stroke-width="0.1" textLength="31.33" lengthAdjust="spacingAndGlyphs">82,000</text>
<text x="971.57" y="442.10" font-size="10.0" fill="#3b3e46" stroke="#3b3e46" stroke-width="0.1" textLength="31.33" lengthAdjust="spacingAndGlyphs">81,500</text>
<text x="971.57" y="468.40" font-size="10.0" fill="#3b3e46" stroke="#3b3e46" stroke-width="0.1" textLength="31.33" lengthAdjust="spacingAndGlyphs">81,000</text>
<text x="971.57" y="494.70" font-size="10.0" fill="#3b3e46" stroke="#3b3e46" stroke-width="0.1" textLength="31.33" lengthAdjust="spacingAndGlyphs">80,500</text>
</g>
<text x="29.00" y="509" font-size="10" font-weight="bold" fill="#3b3e46" textLength="5.6" lengthAdjust="spacingAndGlyphs">2</text>
<text x="82.16" y="509.00" font-size="10.0" fill="#3b3e46" stroke="#3b3e46" stroke-width="0.1" textLength="25.48" lengthAdjust="spacingAndGlyphs">06:00</text>
<text x="145.34" y="509.00" font-size="10.0" fill="#3b3e46" stroke="#3b3e46" stroke-width="0.1" textLength="25.15" lengthAdjust="spacingAndGlyphs">12:00</text>
<text x="208.54" y="509.00" font-size="10.0" fill="#3b3e46" stroke="#3b3e46" stroke-width="0.1" textLength="25.15" lengthAdjust="spacingAndGlyphs">18:00</text>
<text x="281.80" y="509" font-size="10" font-weight="bold" fill="#3b3e46" textLength="5.6" lengthAdjust="spacingAndGlyphs">3</text>
<text x="334.96" y="509.00" font-size="10.0" fill="#3b3e46" stroke="#3b3e46" stroke-width="0.1" textLength="25.48" lengthAdjust="spacingAndGlyphs">06:00</text>
<text x="398.14" y="509.00" font-size="10.0" fill="#3b3e46" stroke="#3b3e46" stroke-width="0.1" textLength="25.15" lengthAdjust="spacingAndGlyphs">12:00</text>
<text x="461.34" y="509.00" font-size="10.0" fill="#3b3e46" stroke="#3b3e46" stroke-width="0.1" textLength="25.15" lengthAdjust="spacingAndGlyphs">18:00</text>
<text x="534.60" y="509" font-size="10" font-weight="bold" fill="#3b3e46" textLength="5.6" lengthAdjust="spacingAndGlyphs">4</text>
<text x="587.76" y="509.00" font-size="10.0" fill="#3b3e46" stroke="#3b3e46" stroke-width="0.1" textLength="25.48" lengthAdjust="spacingAndGlyphs">06:00</text>
<text x="650.94" y="509.00" font-size="10.0" fill="#3b3e46" stroke="#3b3e46" stroke-width="0.1" textLength="25.15" lengthAdjust="spacingAndGlyphs">12:00</text>
<text x="714.14" y="509.00" font-size="10.0" fill="#3b3e46" stroke="#3b3e46" stroke-width="0.1" textLength="25.15" lengthAdjust="spacingAndGlyphs">18:00</text>
<text x="787.40" y="509" font-size="10" font-weight="bold" fill="#3b3e46" textLength="5.6" lengthAdjust="spacingAndGlyphs">5</text>
<text x="840.56" y="509.00" font-size="10.0" fill="#3b3e46" stroke="#3b3e46" stroke-width="0.1" textLength="25.48" lengthAdjust="spacingAndGlyphs">06:00</text>
<text x="903.74" y="509.00" font-size="10.0" fill="#3b3e46" stroke="#3b3e46" stroke-width="0.1" textLength="25.15" lengthAdjust="spacingAndGlyphs">12:00</text>
<g font-size="10">
<rect x="966.4" y="311.3" width="40.6" height="11.6" rx="1.5" fill="#fff" stroke="#2B1CFF" stroke-opacity="0.6" stroke-width="1.2"/>
<text x="971.77" y="320.20" font-size="9.9" fill="#6E62FF" stroke="#6E62FF" stroke-width="0.1" textLength="31.15" lengthAdjust="spacingAndGlyphs">83,805</text>
<rect x="966.4" y="324.5" width="40.6" height="11.6" rx="1.5" fill="#fff" stroke="#FABD2C" stroke-opacity="0.7" stroke-width="1.2"/>
<text x="971.77" y="333.40" font-size="9.9" fill="#F9C35A" stroke="#F9C35A" stroke-width="0.1" textLength="31.12" lengthAdjust="spacingAndGlyphs">83,580</text>
<rect x="966.4" y="369.6" width="40.6" height="11.6" rx="1.5" fill="#fff" stroke="#089981" stroke-opacity="0.75" stroke-width="1.2"/>
<text x="971.77" y="378.20" font-size="9.9" fill="#48B09E" stroke="#48B09E" stroke-width="0.1" textLength="31.23" lengthAdjust="spacingAndGlyphs">82,717</text>
</g>
<text x="7.79" y="14.8" font-size="9.6" fill="#2f323a" stroke="#2f323a" stroke-width="0.25" textLength="278.67" lengthAdjust="spacing">siri11_05 created with TradingView.com, Sep 10, 2025 09:04 UTC</text>
<text x="13.11" y="35.2" font-size="9.6" fill="#2a2d35" stroke="#2a2d35" stroke-width="0.25" textLength="147.59" lengthAdjust="spacing">Bitcoin / U.S. Dollar · 30 · Bitstamp</text>
<text x="165.35" y="35.2" font-size="9.6" fill="#2a2d35" stroke="#2a2d35" stroke-width="0.25">O</text>
<text x="173.27" y="35.2" font-size="9.6" fill="#F24B5B" stroke="#F24B5B" stroke-width="0.25" textLength="32.71" lengthAdjust="spacing">112,380</text>
<text x="211.11" y="35.2" font-size="9.6" fill="#2a2d35" stroke="#2a2d35" stroke-width="0.25">H</text>
<text x="218.67" y="35.2" font-size="9.6" fill="#F24B5B" stroke="#F24B5B" stroke-width="0.25" textLength="31.20" lengthAdjust="spacing">112,391</text>
<text x="254.81" y="35.2" font-size="9.6" fill="#2a2d35" stroke="#2a2d35" stroke-width="0.25">L</text>
<text x="260.27" y="35.2" font-size="9.6" fill="#F24B5B" stroke="#F24B5B" stroke-width="0.25" textLength="32.51" lengthAdjust="spacing">112,342</text>
<text x="298.26" y="35.2" font-size="9.6" fill="#2a2d35" stroke="#2a2d35" stroke-width="0.25">C</text>
<text x="305.07" y="35.2" font-size="9.6" fill="#F24B5B" stroke="#F24B5B" stroke-width="0.25" textLength="32.91" lengthAdjust="spacing">112,342</text>
<text x="343.28" y="35.2" font-size="9.6" fill="#F24B5B" stroke="#F24B5B" stroke-width="0.25" textLength="60.02" lengthAdjust="spacing">−42 (−0.04%)</text>
<text x="13.66" y="48.4" font-size="9.6" fill="#2a2d35" stroke="#2a2d35" stroke-width="0.25" textLength="67.83" lengthAdjust="spacing">SMA (50, close)</text>
<text x="86.57" y="48.4" font-size="9.6" fill="#FABD2C" stroke="#FABD2C" stroke-width="0.25" textLength="31.45" lengthAdjust="spacing">111,783</text>
<text x="13.66" y="61.2" font-size="9.6" fill="#2a2d35" stroke="#2a2d35" stroke-width="0.25" textLength="73.13" lengthAdjust="spacing">SMA (200, close)</text>
<text x="92.47" y="61.2" font-size="9.6" fill="#2B1CFF" stroke="#2B1CFF" stroke-width="0.25" textLength="31.51" lengthAdjust="spacing">111,394</text>
<g transform="translate(9.1,529.4) scale(0.625,0.65)" fill="#131722">
<path d="M14 22H7V11H0V4h14v18zM28 22h-8l7.5-18h8L28 22z"/><circle cx="20" cy="8" r="4"/>
</g>
<text x="36.7" y="543.5" font-size="16.2" font-weight="bold" fill="#131722" stroke="#131722" stroke-width="0.35" textLength="91.0" lengthAdjust="spacingAndGlyphs">TradingView</text>
</svg>
</body></html>
